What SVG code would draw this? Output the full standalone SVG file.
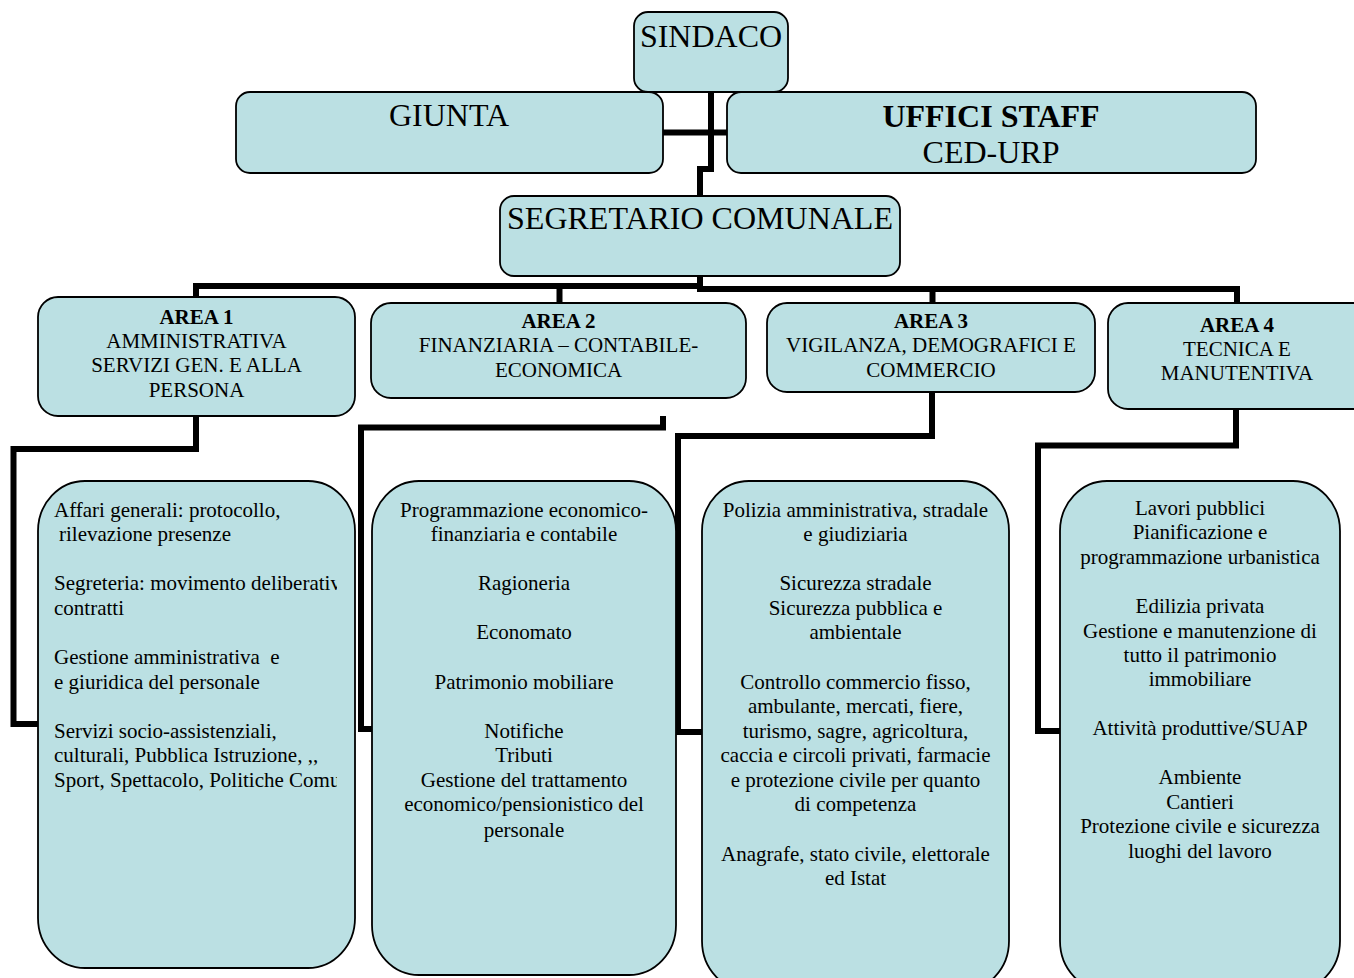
<svg xmlns="http://www.w3.org/2000/svg" width="1354" height="978" viewBox="0 0 1354 978">
<defs>
<style>
.box{fill:#BBE0E3;stroke:#000;stroke-width:1.8}
.t{font-family:"Liberation Serif","Times New Roman",serif;fill:#000}
.h{font-size:32px;text-anchor:middle}
.a{font-size:21px;text-anchor:middle}
.b{font-weight:bold}
.l{font-size:21px;white-space:pre}
.c{font-size:21px;text-anchor:middle}
.con{fill:none;stroke:#000;stroke-width:6;stroke-linejoin:miter}
</style>
<clipPath id="clip1"><rect x="38" y="481" width="299" height="487"/></clipPath>
</defs>
<rect width="1354" height="978" fill="#fff"/>
<g id="connectors">
<path class="con" d="M711 92 V169 H700 V196"/>
<path class="con" d="M662 132.5 H728"/>
<path class="con" d="M700 276 V289"/>
<path class="con" d="M193 286 H703"/>
<path class="con" d="M697 289 H1240"/>
<path class="con" d="M196 286 V297"/>
<path class="con" d="M559.5 286 V303"/>
<path class="con" d="M932.5 289 V303"/>
<path class="con" d="M1237 289 V303"/>
<path class="con" d="M196 416 V449 H13.5 V724 H40"/>
<path class="con" d="M663 416 V427.5 H361 V729 H374"/>
<path class="con" d="M932 392 V436 H678 V732 H704"/>
<path class="con" d="M1236 409 V445.5 H1038 V731 H1062"/>
</g>
<g id="sindaco">
<rect class="box" x="634" y="12" width="154" height="80" rx="14"/>
<text class="t h" x="711" y="47">SINDACO</text>
</g>
<g id="giunta">
<rect class="box" x="236" y="92" width="427" height="81" rx="14"/>
<text class="t h" x="449" y="126">GIUNTA</text>
</g>
<g id="uffici-staff">
<rect class="box" x="727" y="92" width="529" height="81" rx="14"/>
<text class="t h b" x="991" y="127">UFFICI STAFF</text>
<text class="t h" x="991" y="163">CED-URP</text>
</g>
<g id="segretario">
<rect class="box" x="500" y="196" width="400" height="80" rx="14"/>
<text class="t h" x="700" y="229">SEGRETARIO COMUNALE</text>
</g>
<g id="area1">
<rect class="box" x="38" y="297" width="317" height="119" rx="20"/>
<text class="t a b" x="196.5" y="324">AREA 1</text>
<text class="t a" x="196.5" y="348">AMMINISTRATIVA</text>
<text class="t a" x="196.5" y="372">SERVIZI GEN. E ALLA</text>
<text class="t a" x="196.5" y="397">PERSONA</text>
</g>
<g id="area2">
<rect class="box" x="371" y="303" width="375" height="95" rx="20"/>
<text class="t a b" x="558.5" y="328">AREA 2</text>
<text class="t a" x="558.5" y="352">FINANZIARIA – CONTABILE-</text>
<text class="t a" x="558.5" y="377">ECONOMICA</text>
</g>
<g id="area3">
<rect class="box" x="767" y="303" width="328" height="89" rx="20"/>
<text class="t a b" x="931" y="328">AREA 3</text>
<text class="t a" x="931" y="352">VIGILANZA, DEMOGRAFICI E</text>
<text class="t a" x="931" y="377">COMMERCIO</text>
</g>
<g id="area4">
<rect class="box" x="1108" y="303" width="270" height="106" rx="20"/>
<text class="t a b" x="1237" y="332">AREA 4</text>
<text class="t a" x="1237" y="356">TECNICA E</text>
<text class="t a" x="1237" y="380">MANUTENTIVA</text>
</g>
<g id="servizi1">
<rect class="box" x="38" y="481" width="317" height="487" rx="47" ry="50"/>
<g clip-path="url(#clip1)">
<text class="t l" x="54" y="517">Affari generali: protocollo,</text>
<text class="t l" x="59" y="541">rilevazione presenze</text>
<text class="t l" x="54" y="590">Segreteria: movimento deliberativ</text>
<text class="t l" x="54" y="615">contratti</text>
<text class="t l" x="54" y="664">Gestione amministrativa  e</text>
<text class="t l" x="54" y="689">e giuridica del personale</text>
<text class="t l" x="54" y="738">Servizi socio-assistenziali,</text>
<text class="t l" x="54" y="762">culturali, Pubblica Istruzione, ,,</text>
<text class="t l" x="54" y="787">Sport, Spettacolo, Politiche Comu</text>
</g>
</g>
<g id="servizi2">
<rect class="box" x="372" y="481" width="304" height="494" rx="47" ry="50"/>
<text class="t c" x="524" y="517">Programmazione economico-</text>
<text class="t c" x="524" y="541">finanziaria e contabile</text>
<text class="t c" x="524" y="590">Ragioneria</text>
<text class="t c" x="524" y="639">Economato</text>
<text class="t c" x="524" y="689">Patrimonio mobiliare</text>
<text class="t c" x="524" y="738">Notifiche</text>
<text class="t c" x="524" y="762">Tributi</text>
<text class="t c" x="524" y="787">Gestione del trattamento</text>
<text class="t c" x="524" y="811">economico/pensionistico del</text>
<text class="t c" x="524" y="837">personale</text>
</g>
<g id="servizi3">
<rect class="box" x="702" y="481" width="307" height="510" rx="47" ry="50"/>
<text class="t c" x="855.5" y="517">Polizia amministrativa, stradale</text>
<text class="t c" x="855.5" y="541">e giudiziaria</text>
<text class="t c" x="855.5" y="590">Sicurezza stradale</text>
<text class="t c" x="855.5" y="615">Sicurezza pubblica e</text>
<text class="t c" x="855.5" y="639">ambientale</text>
<text class="t c" x="855.5" y="689">Controllo commercio fisso,</text>
<text class="t c" x="855.5" y="713">ambulante, mercati, fiere,</text>
<text class="t c" x="855.5" y="738">turismo, sagre, agricoltura,</text>
<text class="t c" x="855.5" y="762">caccia e circoli privati, farmacie</text>
<text class="t c" x="855.5" y="787">e protezione civile per quanto</text>
<text class="t c" x="855.5" y="811">di competenza</text>
<text class="t c" x="855.5" y="861">Anagrafe, stato civile, elettorale</text>
<text class="t c" x="855.5" y="885">ed Istat</text>
</g>
<g id="servizi4">
<rect class="box" x="1060" y="481" width="280" height="510" rx="47" ry="50"/>
<text class="t c" x="1200" y="515">Lavori pubblici</text>
<text class="t c" x="1200" y="539">Pianificazione e</text>
<text class="t c" x="1200" y="564">programmazione urbanistica</text>
<text class="t c" x="1200" y="613">Edilizia privata</text>
<text class="t c" x="1200" y="638">Gestione e manutenzione di</text>
<text class="t c" x="1200" y="662">tutto il patrimonio</text>
<text class="t c" x="1200" y="686">immobiliare</text>
<text class="t c" x="1200" y="735">Attività produttive/SUAP</text>
<text class="t c" x="1200" y="784">Ambiente</text>
<text class="t c" x="1200" y="809">Cantieri</text>
<text class="t c" x="1200" y="833">Protezione civile e sicurezza</text>
<text class="t c" x="1200" y="858">luoghi del lavoro</text>
</g>
</svg>
